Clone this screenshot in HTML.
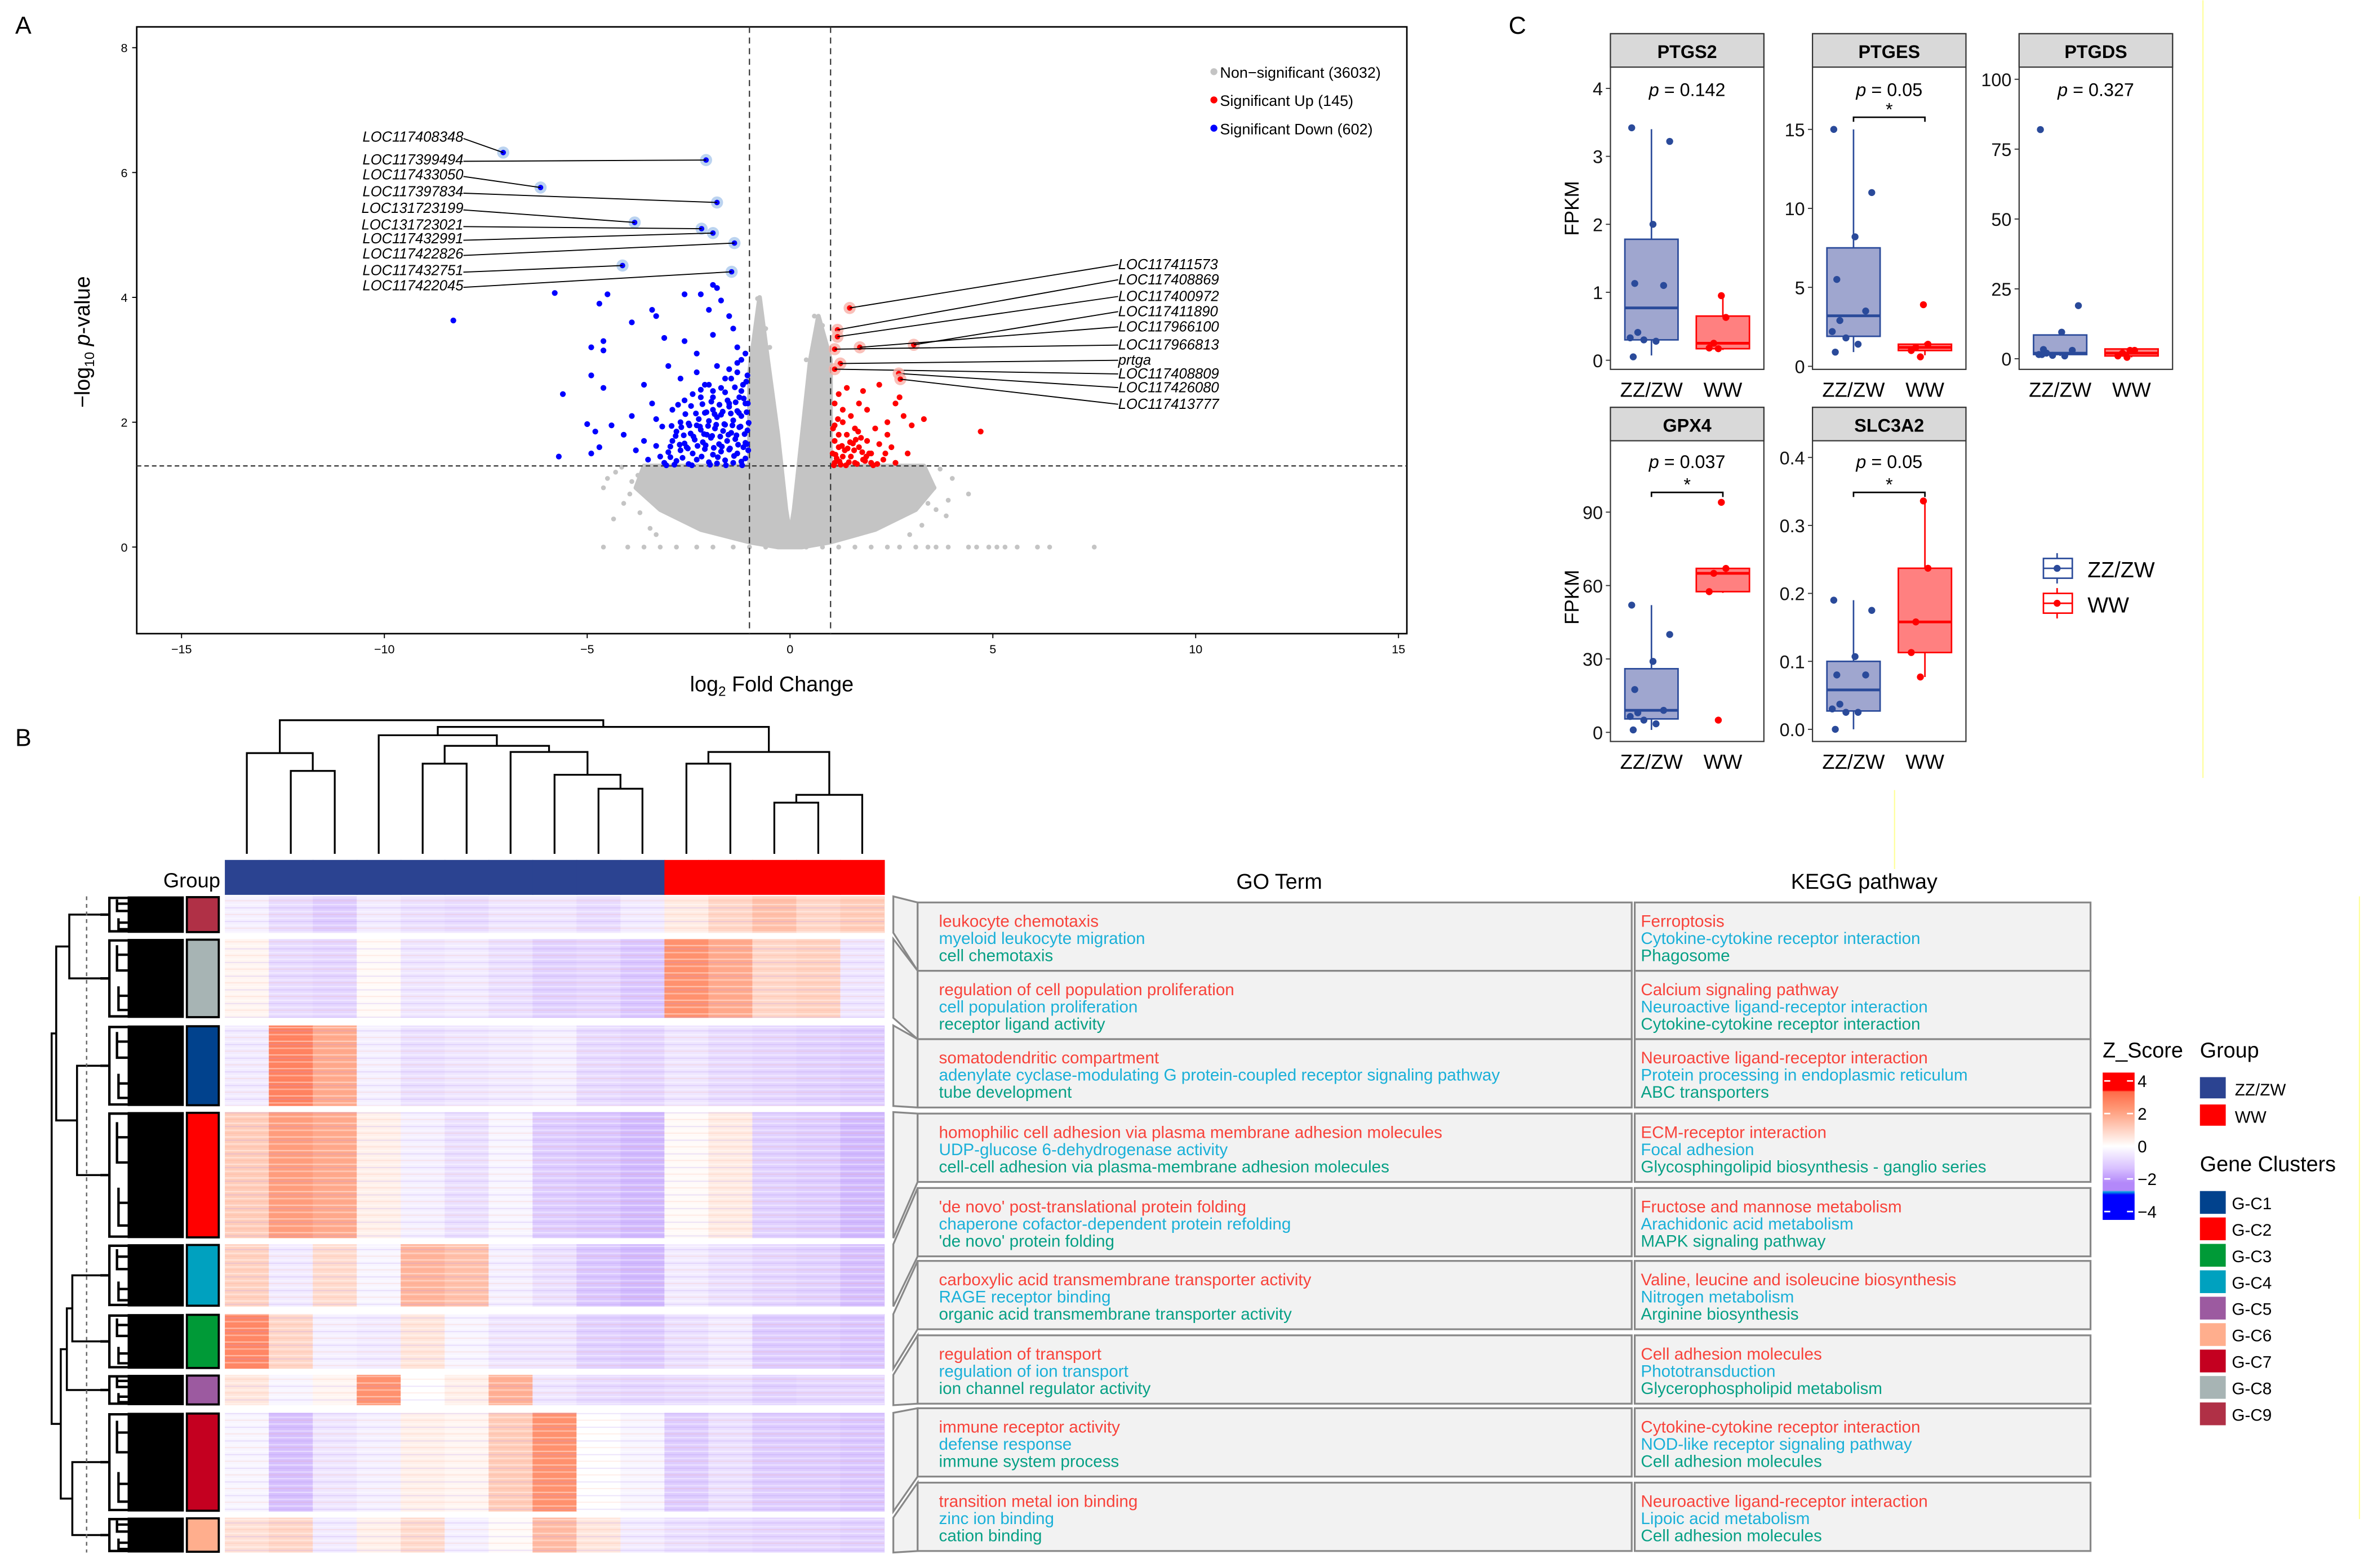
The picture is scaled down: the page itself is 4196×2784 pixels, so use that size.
<!DOCTYPE html>
<html><head><meta charset="utf-8"><style>
html,body{margin:0;padding:0;background:#fff;}
svg{display:block;font-family:"Liberation Sans",Arial,sans-serif;}
</style></head><body>
<svg id="fig" xmlns="http://www.w3.org/2000/svg" width="4196" height="2784" viewBox="0 0 1556 1032">
<defs>
<pattern id="stripes" x="0" y="0" width="29" height="9" patternUnits="userSpaceOnUse">
<rect x="0" y="1" width="29" height="0.8" fill="#fff" opacity="0.45"/>
<rect x="0" y="3.2" width="29" height="0.7" fill="#b090f0" opacity="0.25"/>
<rect x="0" y="5.5" width="29" height="1" fill="#fff" opacity="0.35"/>
<rect x="0" y="7.6" width="29" height="0.6" fill="#ff9070" opacity="0.18"/>
</pattern>
</defs>
<rect x="0" y="0" width="1556" height="1032" fill="#fff"/>
<line x1="1450" y1="0" x2="1450" y2="512" stroke="#ffff99" stroke-width="0.8"/>
<line x1="1247" y1="520" x2="1247" y2="572" stroke="#ffff99" stroke-width="0.8"/>
<line x1="1553" y1="590" x2="1553" y2="1000" stroke="#ffff99" stroke-width="0.8"/>
<text x="10" y="22" font-size="16">A</text>
<text x="10" y="491" font-size="16">B</text>
<text x="993" y="22" font-size="16">C</text>
<g id="volcano"></g>
<g id="boxes"></g>
<g id="heat"></g>
<g id="table"></g>
<g id="legend"></g>
</svg>
<script>
// ===== Volcano data =====
const xTicks=[-15,-10,-5,0,5,10,15];
const yTicks=[0,2,4,6,8];
const downX=[-8.3,-5.8,-4.5,-4.7,-3.9,-3.4,-3.3,-2.6,-2.2,-1.9,-1.8,-1.7,-2.0,-1.5,-4.6,-4.9,-4.6,-3.1,-2.6,-2.3,-1.9,-1.4,-1.3,-5.6,-4.9,-4.6,-3.6,-3.4,-3.0,-2.7,-2.3,-2.1,-1.8,-1.6,-1.3,-1.2,-5.0,-4.8,-4.4,-4.1,-4.7,-5.7,-4.9,-3.8,-3.6,-3.9,-3.3,-3.5,-2.9,-2.6,-2.2,-1.9,-1.5,-1.2,
-3.1,-2.8,-2.5,-2.3,-2.0,-1.8,-1.6,-1.4,-1.2,-1.1,-3.0,-2.7,-2.4,-2.1,-1.9,-1.7,-1.5,-1.3,-1.15,-2.9,-2.6,-2.35,-2.15,-1.95,-1.75,-1.55,-1.35,-1.1,-3.2,-2.8,-2.45,-2.2,-2.05,-1.85,-1.65,-1.45,-1.25,-1.05,-2.7,-2.5,-2.25,-2.0,-1.8,-1.6,-1.4,-1.2,-3.3,-2.95,-2.55,-2.3,-2.1,-1.9,-1.7,-1.5,-1.3,-1.1,-2.4,-2.0,-1.7,-1.45,-1.25,-1.08,
-3.05,-2.85,-2.65,-2.42,-2.18,-1.97,-1.78,-1.58,-1.38,-1.18,-1.03,-2.95,-2.72,-2.52,-2.28,-2.08,-1.88,-1.68,-1.48,-1.28,-1.06,-2.82,-2.62,-2.38,-2.12,-1.92,-1.72,-1.52,-1.32,-1.12,-3.15,-2.92,-2.68,-2.48,-2.22,-2.02,-1.82,-1.62,-1.42,-1.22,-1.02,-2.58,-2.32,-2.06,-1.86,-1.66,-1.46,-1.26,-1.07,-2.76,-2.44,-2.16,-1.94,-1.74,-1.54,-1.34,-1.14,-1.04,-2.2,-1.9,-1.6,-1.36,-1.16,-1.05,-1.5,-1.3,-1.1];
const downY=[3.63,4.07,4.05,3.9,3.6,3.8,3.7,4.05,4.05,4.2,4.15,3.95,3.8,3.7,3.3,3.2,3.15,3.35,3.3,3.1,3.4,3.5,3.2,2.45,2.75,2.55,2.6,2.3,2.9,2.7,2.8,2.6,2.9,2.7,2.8,3.0,1.97,1.85,1.95,1.8,1.6,1.45,1.5,1.55,1.7,2.1,2.05,1.4,2.2,2.35,2.4,2.4,2.3,2.5,
1.35,1.38,1.33,1.4,1.36,1.34,1.39,1.35,1.37,1.42,1.52,1.55,1.5,1.57,1.48,1.53,1.56,1.5,1.6,1.7,1.66,1.72,1.68,1.75,1.65,1.7,1.73,1.67,1.45,1.85,1.82,1.88,1.8,1.9,1.86,1.83,1.92,1.87,2.0,1.98,2.05,2.02,2.08,1.96,2.03,2.1,1.62,1.44,1.6,1.95,2.15,2.2,2.12,2.25,2.18,2.3,2.45,2.6,2.55,2.7,2.4,2.65,
1.31,1.32,1.43,1.31,1.45,1.32,1.44,1.31,1.46,1.31,1.55,1.61,1.64,1.58,1.62,1.63,1.59,1.61,1.58,1.64,1.65,1.78,1.79,1.77,1.81,1.78,1.77,1.8,1.79,1.81,1.93,1.94,1.92,1.95,1.93,1.94,1.96,1.97,1.95,1.93,1.99,2.13,2.14,2.16,2.13,2.17,2.14,2.15,2.16,2.28,2.26,2.29,2.33,2.28,2.35,2.32,2.38,2.3,2.52,2.5,2.48,2.56,2.6,2.75,2.85,2.95,3.1];
const upX=[4.7,3.3,3.0,2.8,2.7,2.6,2.2,1.8,1.4,1.2,1.1,2.4,2.1,1.6,1.3,1.1,2.5,2.9,2.6,2.3,2.0,1.7,1.5,1.2,1.1,1.4,1.9,1.6,1.3,1.05,1.8,2.2,1.5,1.9,1.2,1.1,2.0,2.4,1.7,1.3,1.25,1.45,1.65,1.85,2.05,1.15,1.35,1.55,1.75,1.95,1.08,1.22,1.38,1.58,1.78,2.15,2.35,1.12,1.28,1.48,1.68,1.88,1.06,1.18,1.42,1.62];
const upY=[1.85,2.05,1.95,2.1,2.4,2.3,2.6,2.5,2.55,2.45,2.3,1.8,1.9,1.9,2.0,1.95,1.6,1.5,1.35,1.4,1.5,1.6,1.45,1.6,1.35,1.8,1.7,1.35,1.45,1.5,1.4,1.65,2.1,2.2,1.8,1.7,1.35,2.0,2.3,2.2,1.32,1.36,1.33,1.38,1.31,1.42,1.55,1.66,1.75,1.5,1.31,1.37,1.31,1.55,1.52,1.33,1.5,1.48,1.62,1.68,1.85,1.45,1.9,2.05,1.58,1.72];
const nsX=[-4.6,-4.0,-3.6,-3.2,-2.8,-2.3,-1.9,-1.4,-1.0,-0.6,0.4,0.8,1.2,1.6,2.0,2.4,2.7,3.1,3.4,3.6,3.9,4.4,4.6,4.9,5.1,5.3,5.6,6.1,6.4,7.5,-4.6,-4.3,-3.9,3.7,4.0,4.4,3.0,-0.8,-0.6,0.6,0.8,-0.5,0.4,-4.1,-3.7,3.6,3.9,-4.35,-3.95,-3.75,-3.45,3.55,3.85,3.25,2.95,-4.15,-4.5,3.4,-3.3];
const nsY=[0,0,0,0,0,0,0,0,0,0,0,0,0,0,0,0,0,0,0,0,0,0,0,0,0,0,0,0,0,0,0.95,1.2,1.05,1.25,1.1,0.85,1.2,3.98,3.5,3.7,3.55,3.2,3.0,0.7,0.55,0.6,0.75,0.45,0.85,1.15,0.3,0.95,0.5,0.35,0.2,1.28,1.1,0.7,0.2];
const nsCloud=[[-3.6,1.3],[-1,1.3],[-1,2.8],[-0.75,4.0],[-0.55,3.0],[-0.3,1.8],[-0.1,0.6],[0,0.2],[0.1,0.6],[0.3,1.8],[0.5,3.0],[0.7,3.7],[1,3.0],[1,1.3],[3.3,1.3],[3.55,0.95],[3.1,0.6],[2.1,0.28],[1.0,0.08],[0.3,0],[-0.3,0],[-1,0.08],[-2.2,0.28],[-3.2,0.6],[-3.8,0.95]];
const labDown=["LOC117408348","LOC117399494","LOC117433050","LOC117397834","LOC131723199","LOC131723021","LOC117432991","LOC117422826","LOC117432751","LOC117422045"];
const labDownX=[-7.07,-2.07,-6.15,-1.8,-3.83,-2.18,-1.9,-1.37,-4.13,-1.44];
const labDownY=[6.32,6.2,5.76,5.52,5.2,5.1,5.03,4.87,4.51,4.41];
const labUp=["LOC117411573","LOC117408869","LOC117400972","LOC117411890","LOC117966100","LOC117966813","prtga","LOC117408809","LOC117426080","LOC117413777"];
const labUpX=[1.47,1.17,1.17,3.05,1.72,1.1,1.24,1.1,2.68,2.72];
const labUpY=[3.83,3.48,3.37,3.24,3.2,3.17,2.94,2.85,2.78,2.69];

const NS="http://www.w3.org/2000/svg";
function mk(tag,attrs,parent,txt){const e=document.createElementNS(NS,tag);for(const k in attrs)e.setAttribute(k,attrs[k]);if(txt!==undefined)e.textContent=txt;parent.appendChild(e);return e;}

(function(){
const g=document.getElementById('volcano');
const vx=x=>520+x*26.7, vy=y=>360-y*41.1;
const L=90,R=926,T=17.5,B=417;
let r=mk('rect',{x:L,y:T,width:R-L,height:B-T,fill:'none',stroke:'#000','stroke-width':1},g);


xTicks.forEach(t=>{mk('line',{x1:vx(t),x2:vx(t),y1:B,y2:B+3,stroke:'#000','stroke-width':0.7},g);
 const e=mk('text',{x:vx(t),y:B+13,'font-size':8,'text-anchor':'middle'},g,t<0?'\u2212'+(-t):t);
 });
yTicks.forEach(t=>{mk('line',{x1:L-3,x2:L,y1:vy(t),y2:vy(t),stroke:'#000','stroke-width':0.7},g);
 const e=mk('text',{x:L-6,y:vy(t)+3,'font-size':8,'text-anchor':'end'},g,t);
 });
let xt=mk('text',{x:508,y:455,'font-size':14,'text-anchor':'middle'},g);

xt.innerHTML='log<tspan font-size="9" dy="3">2</tspan><tspan dy="-3"> Fold Change</tspan>';
let yt=mk('text',{transform:'translate(59,225) rotate(-90)','font-size':14,'text-anchor':'middle'},g);

yt.innerHTML='\u2212log<tspan font-size="9" dy="3">10</tspan><tspan dy="-3"> </tspan><tspan font-style="italic">p</tspan>-value';
let cl=mk('path',{d:'M'+nsCloud.map(p=>vx(p[0])+','+vy(p[1])).join('L')+'Z',fill:'#c4c4c4',stroke:'#c4c4c4','stroke-width':3,'stroke-linejoin':'round'},g);

nsX.forEach((x,i)=>{const c=mk('circle',{cx:vx(x),cy:vy(nsY[i]),r:1.6,fill:'#c4c4c4'},g);
 });
[-1,1].forEach(v=>{const l=mk('line',{x1:vx(v),x2:vx(v),y1:T,y2:B,stroke:'#333','stroke-width':0.8,'stroke-dasharray':'4,3'},g);
 });
let hl=mk('line',{x1:L,x2:R,y1:vy(1.3),y2:vy(1.3),stroke:'#333','stroke-width':0.8,'stroke-dasharray':'3,2'},g);

downX.forEach((x,i)=>{const c=mk('circle',{cx:vx(x),cy:vy(downY[i]),r:1.9,fill:'#0000ff'},g);
 });
upX.forEach((x,i)=>{const c=mk('circle',{cx:vx(x),cy:vy(upY[i]),r:1.9,fill:'#ff0000'},g);
 });
const dLabY=[90,105,115,126,137,148,157,167,178,188];
labDown.forEach((s,i)=>{const px=vx(labDownX[i]),py=vy(labDownY[i]);
 mk('circle',{cx:px,cy:py,r:4,fill:'#aac8ec',opacity:0.8},g);
 mk('circle',{cx:px,cy:py,r:1.8,fill:'#0000ff'},g);
 mk('line',{x1:305,y1:dLabY[i]+1,x2:px,y2:py,stroke:'#000','stroke-width':0.7},g);
 const t=mk('text',{x:305,y:dLabY[i]+3,'font-size':9.5,'font-style':'italic','text-anchor':'end'},g,s);
 });
const uLabY=[174,184,195,205,215,227,237,246,255,266];
labUp.forEach((s,i)=>{const px=vx(labUpX[i]),py=vy(labUpY[i]);
 mk('circle',{cx:px,cy:py,r:4,fill:'#f7b0a8',opacity:0.8},g);
 mk('circle',{cx:px,cy:py,r:1.8,fill:'#ff0000'},g);
 mk('line',{x1:736,y1:uLabY[i],x2:px,y2:py,stroke:'#000','stroke-width':0.7},g);
 const t=mk('text',{x:736,y:uLabY[i]+3,'font-size':9.5,'font-style':'italic'},g,s);
 });
const lg=[['Non\u2212significant (36032)','#c4c4c4'],['Significant Up (145)','#ff0000'],['Significant Down (602)','#0000ff']];
lg.forEach((d,i)=>{mk('circle',{cx:799,cy:47+i*18.6,r:2.3,fill:d[1]},g);
 const t=mk('text',{x:803,y:51+i*18.6,'font-size':10},g,d[0]);
 });
})();

// ===== Boxplot data =====
const geneNames=["PTGS2","PTGES","PTGDS","GPX4","SLC3A2"];
const pLabels=["0.142","0.05","0.327","0.037","0.05"];
const sigStars=[false,true,false,true,true];
const tickSets=[[0,1,2,3,4],[0,5,10,15],[0,25,50,75,100],[0,30,60,90],[0.0,0.1,0.2,0.3,0.4]];
const tickText=[["0","1","2","3","4"],["0","5","10","15"],["0","25","50","75","100"],["0","30","60","90"],["0.0","0.1","0.2","0.3","0.4"]];
const zzStats=[[0.07,0.3,0.77,1.78,3.4],[0.9,1.9,3.2,7.5,15],[1,1.5,2,8.5,9],[1,5.5,9,26,52],[0,0.027,0.058,0.1,0.19]];
const wwStats=[[0.15,0.17,0.25,0.65,0.95],[0.7,1.0,1.2,1.4,1.5],[0.5,1,2,3.5,3.5],[57,57.5,65,67,67],[0.077,0.113,0.158,0.237,0.336]];
const zzPts=[[3.42,3.22,2.0,1.13,1.1,0.41,0.33,0.3,0.28,0.05],[15,11,8.2,5.5,3.5,2.9,2.2,1.8,1.4,0.9],[82,19,9.5,3.3,3,2,1.5,1.2,1,1.5],[52,40,29,17.5,9,8,6.5,5,3.5,1],[0.19,0.175,0.107,0.08,0.08,0.037,0.03,0.025,0.025,0.0]];
const wwPts=[[0.95,0.63,0.25,0.18,0.17],[3.9,1.4,1.2,1.0,0.6],[3,3,2,1,0.5],[94,67,65,57.5,5],[0.336,0.237,0.158,0.113,0.077]];
(function(){
const g=document.getElementById('boxes');
const lefts=[1060,1193,1329,1060,1193];
const stripT=[22,22,22,268,268];
const plotB=[243,243,243,488,488];
const y0px=[237,241,236,482,480];
const ytopPx=[58,85,52,337,301];
const zzJit=[-13,12,1,-11,8,-9,-14,-5,3,-12];
const wwJit=[-1,2,-6,-9,-3];
geneNames.forEach((nm,k)=>{
 const L=lefts[k],W=101,T=stripT[k],B=plotB[k];
 const tmax=tickSets[k][tickSets[k].length-1];
 const sy=v=>y0px[k]-v*(y0px[k]-ytopPx[k])/tmax;
 const pg=mk('g',{},g);
 mk('rect',{x:L,y:T,width:W,height:B-T,fill:'#fff',stroke:'#333','stroke-width':0.8},pg);
 mk('rect',{x:L,y:T,width:W,height:22,fill:'#d9d9d9',stroke:'#333','stroke-width':0.8},pg);
 const st=mk('text',{x:L+W/2,y:T+16,'font-size':12,'font-weight':'bold','text-anchor':'middle'},pg,nm);
 
 tickSets[k].forEach((t,i)=>{mk('line',{x1:L-3,x2:L,y1:sy(t),y2:sy(t),stroke:'#333','stroke-width':0.7},pg);
  const e=mk('text',{x:L-5,y:sy(t)+4.5,'font-size':12,'text-anchor':'end',fill:'#111'},pg,tickText[k][i]);
  });
 const cx=[L+27,L+74];
 ['ZZ/ZW','WW'].forEach((c,i)=>{const e=mk('text',{x:cx[i],y:B+18,'font-size':13.5,'text-anchor':'middle'},pg,c);
  });
 const pt=mk('text',{x:L+W/2,y:(k<3?63:308),'font-size':12,'text-anchor':'middle'},pg);
 
 pt.innerHTML='<tspan font-style="italic">p</tspan> = '+pLabels[k];
 if(sigStars[k]){const by=(k<3?77:324);
  mk('path',{d:`M${cx[0]},${by+3}V${by}H${cx[1]}V${by+3}`,fill:'none',stroke:'#000','stroke-width':1},pg);
  mk('text',{x:(cx[0]+cx[1])/2,y:by-1,'font-size':12,'text-anchor':'middle'},pg,'*');}
 [[zzStats[k],'#2a4a9a','#9fa6cf',zzPts[k],zzJit],[wwStats[k],'#ff0000','#ff8080',wwPts[k],wwJit]].forEach((d,i)=>{
  const s=d[0],x=cx[i],hw=17.5;
  const bg=mk('g',{},pg);
  mk('line',{x1:x,x2:x,y1:sy(s[0]),y2:sy(s[4]),stroke:d[1],'stroke-width':1},bg);
  mk('rect',{x:x-hw,y:sy(s[3]),width:2*hw,height:Math.max(1,sy(s[1])-sy(s[3])),fill:d[2],stroke:d[1],'stroke-width':1},bg);
  mk('line',{x1:x-hw,x2:x+hw,y1:sy(s[2]),y2:sy(s[2]),stroke:d[1],'stroke-width':1.8},bg);
  d[3].forEach((v,j)=>{const c=mk('circle',{cx:x+d[4][j],cy:sy(v),r:2.3,fill:i?'#ff0000':'#2a4a9a'},bg);
   });
 });
});
const f1=mk('text',{transform:'translate(1039,137) rotate(-90)','font-size':13,'text-anchor':'middle'},g,'FPKM');

const f2=mk('text',{transform:'translate(1039,393) rotate(-90)','font-size':13,'text-anchor':'middle'},g,'FPKM');

[['ZZ/ZW','#2a4a9a',374],['WW','#ff0000',397]].forEach(d=>{
 mk('line',{x1:1354,x2:1354,y1:d[2]-10,y2:d[2]+10,stroke:d[1],'stroke-width':1},g);
 mk('rect',{x:1345,y:d[2]-6.5,width:19,height:13,fill:'#fff',stroke:d[1],'stroke-width':1},g);
 mk('line',{x1:1345,x2:1364,y1:d[2],y2:d[2],stroke:d[1],'stroke-width':1},g);
 mk('circle',{cx:1354,cy:d[2],r:2.3,fill:d[1]},g);
 const t=mk('text',{x:1374,y:d[2]+6,'font-size':14.5},g,d[0]);
 });
})();

// ===== Heatmap data =====
const clusterNames=["G-C9","G-C8","G-C1","G-C2","G-C4","G-C3","G-C5","G-C7","G-C6"];
const clusterColors=["#b03046","#a7b4b4","#01428d","#ff0000","#00a1bf","#009a37","#9c5aa0","#c40020","#ffae8d"];
const clusterTop=[590,618,675,732,819,865,905,930,999];
const clusterBot=[614,670,728,815,860,901,925,995,1022];
const zMeans=[
[-0.3,-0.7,-1.0,-0.4,-0.6,-0.7,-0.5,-0.5,-0.7,-0.4,0.4,0.8,1.2,0.8,1.0],
[0.2,-0.7,-0.8,0.1,-0.5,-0.4,-0.6,-0.9,-0.8,-1.1,2.0,1.6,0.8,0.9,-0.5],
[-0.4,2.3,1.6,-0.3,-0.6,-0.5,-0.4,-0.3,-0.7,-0.8,-0.5,-0.7,-0.8,-0.9,-1.0],
[1.0,1.8,1.6,0.3,-0.3,-0.6,-0.2,-1.0,-1.1,-1.3,0.1,0.4,-0.9,-1.0,-1.3],
[0.9,-0.4,0.7,-0.2,1.4,1.2,-0.3,-0.6,-1.1,-1.3,-0.4,-0.6,-0.8,-0.9,-1.2],
[2.2,0.8,-0.3,-0.4,0.5,-0.2,-0.5,-0.5,-0.9,-1.0,-0.6,-0.4,-1.0,-1.0,-1.1],
[0.5,-0.2,0.2,2.0,0.0,0.3,1.5,-0.5,-0.7,-0.8,-0.7,-0.6,-0.9,-0.8,-0.8],
[-0.2,-1.2,-0.5,-0.3,0.3,0.2,1.0,2.0,0.0,-0.2,-1.0,-0.6,-1.0,-1.0,-1.1],
[0.6,0.8,-0.4,0.3,0.7,-0.3,0.1,1.3,0.5,-0.4,-0.6,-0.7,-0.8,-0.8,-0.9]];
const sampleGroups=["ZZ/ZW","ZZ/ZW","ZZ/ZW","ZZ/ZW","ZZ/ZW","ZZ/ZW","ZZ/ZW","ZZ/ZW","ZZ/ZW","ZZ/ZW","WW","WW","WW","WW","WW"];
const colMerges=[[1,2,149],[0,15,181],[4,5,162],[8,9,117],[7,18,142],[6,19,183],[17,20,194],[3,21,213],[10,11,162],[12,13,92],[24,14,106],[23,25,183],[22,26,228],[16,27,240]];
(function(){
const g=document.getElementById('heat');
const HL=148,HR=582,nC=15,cw=(HR-HL)/nC;
function zc(z){const st=[[-4,[0,0,255]],[-2,[180,140,250]],[-1,[222,204,255]],[0,[255,255,255]],[1,[255,204,185]],[2,[255,145,110]],[3,[255,92,60]],[4,[255,0,0]]];
 z=Math.max(-4,Math.min(4,z));for(let i=0;i<st.length-1;i++){if(z<=st[i+1][0]){const t=(z-st[i][0])/(st[i+1][0]-st[i][0]);const a=st[i][1],b=st[i+1][1];return `rgb(${a.map((v,j)=>Math.round(v+(b[j]-v)*t)).join(',')})`;}}return 'red';}
zMeans.forEach((row,ci)=>{row.forEach((z,j)=>{const r=mk('rect',{x:HL+j*cw,y:clusterTop[ci],width:cw+0.3,height:clusterBot[ci]-clusterTop[ci],fill:zc(z)},g);
 });
 const ov=mk('rect',{x:HL,y:clusterTop[ci],width:HR-HL,height:clusterBot[ci]-clusterTop[ci],fill:'url(#stripes)'},g);
 
 const sw=mk('rect',{x:123,y:clusterTop[ci]+0.5,width:21,height:clusterBot[ci]-clusterTop[ci]-1,fill:clusterColors[ci],stroke:'#000','stroke-width':1.4},g);
 
 const bl=mk('rect',{x:84,y:clusterTop[ci],width:37,height:clusterBot[ci]-clusterTop[ci],fill:'#000'},g);
 
 const mid=(clusterTop[ci]+clusterBot[ci])/2,h=clusterBot[ci]-clusterTop[ci];
 mk('path',{d:`M84,${clusterTop[ci]+1}H72V${clusterBot[ci]-1}H84M72,${mid}H66M77,${clusterTop[ci]+h*0.2}H84M77,${clusterTop[ci]+h*0.08}V${clusterTop[ci]+h*0.4}H84M78,${clusterTop[ci]+h*0.6}V${clusterTop[ci]+h*0.9}H84M78,${clusterTop[ci]+h*0.72}H84`,fill:'none',stroke:'#000','stroke-width':1.6},g);
});
const cm=clusterTop.map((t,i)=>(t+clusterBot[i])/2);
const rowTree=[[cm[0],cm[1],45.6],[cm[2],cm[3],50.7],[cm[4],cm[5],47.6],[cm[7],cm[8],47.6]];
let p='';rowTree.forEach(d=>{p+=`M66,${d[0]}H${d[2]}V${d[1]}H66`;});
const a=(cm[0]+cm[1])/2,b=(cm[2]+cm[3])/2,c=(cm[4]+cm[5])/2,d2=(cm[7]+cm[8])/2;
p+=`M45.6,${a}H37V${b}H50.7`;
const e=(c+cm[6])/2;p+=`M47.6,${c}H44V${cm[6]}H66`;
p+=`M44,${e}H40V${d2}H47.6`;
const top=(a+b)/2,bot=(e+d2)/2;p+=`M37,${top}H34V${bot}H40`;
const rt=mk('path',{d:p,fill:'none',stroke:'#000','stroke-width':1.3},g);

const dl=mk('line',{x1:57,x2:57,y1:590,y2:1022,stroke:'#666','stroke-width':0.9,'stroke-dasharray':'2.5,2.5'},g);

sampleGroups.forEach((s,j)=>{const r=mk('rect',{x:HL+j*cw,y:566,width:cw+0.4,height:23,fill:s==='WW'?'#ff0000':'#2b4391'},g);
 });
const gt=mk('text',{x:145,y:584,'font-size':13.5,'text-anchor':'end'},g,'Group');

const base=562,sc=88/240;
const nx=[],ny=[];for(let j=0;j<nC;j++){nx.push(HL+(j+0.5)*cw);ny.push(base);}
let dp='';colMerges.forEach(m=>{const yy=base-m[2]*sc;dp+=`M${nx[m[0]]},${ny[m[0]]}V${yy}H${nx[m[1]]}V${ny[m[1]]}`;nx.push((nx[m[0]]+nx[m[1]])/2);ny.push(yy);});
const cd=mk('path',{d:dp,fill:'none',stroke:'#000','stroke-width':1.2},g);

})();

// ===== Enrichment table =====
const goTerms=[["leukocyte chemotaxis","myeloid leukocyte migration","cell chemotaxis"],
["regulation of cell population proliferation","cell population proliferation","receptor ligand activity"],
["somatodendritic compartment","adenylate cyclase-modulating G protein-coupled receptor signaling pathway","tube development"],
["homophilic cell adhesion via plasma membrane adhesion molecules","UDP-glucose 6-dehydrogenase activity","cell-cell adhesion via plasma-membrane adhesion molecules"],
["'de novo' post-translational protein folding","chaperone cofactor-dependent protein refolding","'de novo' protein folding"],
["carboxylic acid transmembrane transporter activity","RAGE receptor binding","organic acid transmembrane transporter activity"],
["regulation of transport","regulation of ion transport","ion channel regulator activity"],
["immune receptor activity","defense response","immune system process"],
["transition metal ion binding","zinc ion binding","cation binding"]];
const keggTerms=[["Ferroptosis","Cytokine-cytokine receptor interaction","Phagosome"],
["Calcium signaling pathway","Neuroactive ligand-receptor interaction","Cytokine-cytokine receptor interaction"],
["Neuroactive ligand-receptor interaction","Protein processing in endoplasmic reticulum","ABC transporters"],
["ECM-receptor interaction","Focal adhesion","Glycosphingolipid biosynthesis - ganglio series"],
["Fructose and mannose metabolism","Arachidonic acid metabolism","MAPK signaling pathway"],
["Valine, leucine and isoleucine biosynthesis","Nitrogen metabolism","Arginine biosynthesis"],
["Cell adhesion molecules","Phototransduction","Glycerophospholipid metabolism"],
["Cytokine-cytokine receptor interaction","NOD-like receptor signaling pathway","Cell adhesion molecules"],
["Neuroactive ligand-receptor interaction","Lipoic acid metabolism","Cell adhesion molecules"]];
(function(){
const g=document.getElementById('table');
const tops=[594,639,684,733,782,830,879,927,976],h=45;
const cols=['#f8433b','#1ab0d8','#07a085'];
const h1=mk('text',{x:842,y:585,'font-size':14,'text-anchor':'middle'},g,'GO Term');

const h2=mk('text',{x:1227,y:585,'font-size':14,'text-anchor':'middle'},g,'KEGG pathway');

tops.forEach((t,i)=>{
 const ct=clusterTop[i],cb=clusterBot[i];
 const cn=mk('polygon',{points:`588,${ct} 604,${t} 604,${t+h} 588,${cb}`,fill:'#f2f2f2',stroke:'#888','stroke-width':1.2},g);
 
 const b1=mk('rect',{x:604,y:t,width:470,height:h,fill:'#f2f2f2',stroke:'#888','stroke-width':1.2},g);
 
 const b2=mk('rect',{x:1076,y:t,width:300,height:h,fill:'#f2f2f2',stroke:'#888','stroke-width':1.2},g);
 
 for(let k=0;k<3;k++){
  const a=mk('text',{x:618,y:t+16+k*11.3,'font-size':11,fill:cols[k]},g,goTerms[i][k]);
  
  const b=mk('text',{x:1080,y:t+16+k*11.3,'font-size':11,fill:cols[k]},g,keggTerms[i][k]);
  }
});
})();

// ===== Legend =====
const zTicks=[4,2,0,-2,-4];
const legendOrder=["G-C1","G-C2","G-C3","G-C4","G-C5","G-C6","G-C7","G-C8","G-C9"];
const legendColors=["#01428d","#ff0000","#009a37","#00a1bf","#9c5aa0","#ffae8d","#c40020","#a7b4b4","#b03046"];
(function(){
const g=document.getElementById('legend');
const defs=mk('defs',{},g);
const lgd=mk('linearGradient',{id:'zg',x1:0,y1:0,x2:0,y2:1},defs);
[['0','#ff0000'],['0.12','#ff0000'],['0.13','#ff6a48'],['0.25','#ff9a78'],['0.5','#ffffff'],['0.65','#d8c0ff'],['0.75','#b388fa'],['0.8','#b388fa'],['0.81','#00a0e0'],['0.83','#0000ff'],['1','#0000ff']].forEach(s=>mk('stop',{offset:s[0],'stop-color':s[1]},lgd));
const t1=mk('text',{x:1384,y:696,'font-size':14},g,'Z_Score');

const t2=mk('text',{x:1448,y:696,'font-size':14},g,'Group');

const cb=mk('rect',{x:1384,y:706,width:21,height:97,fill:'url(#zg)'},g);

const zy=z=>754.5-z*10.75;
zTicks.forEach(z=>{mk('line',{x1:1385,x2:1389,y1:zy(z),y2:zy(z),stroke:'#fff','stroke-width':1},g);
 mk('line',{x1:1400,x2:1404,y1:zy(z),y2:zy(z),stroke:'#fff','stroke-width':1},g);
 const t=mk('text',{x:1407,y:zy(z)+4,'font-size':11},g,z<0?'\u2212'+(-z):z);
 });
[['ZZ/ZW','#2b4391',709],['WW','#ff0000',727]].forEach(d=>{mk('rect',{x:1448,y:d[2],width:17,height:14,fill:d[1]},g);
 const t=mk('text',{x:1471,y:d[2]+12,'font-size':11},g,d[0]);
 });
const gc=mk('text',{x:1448,y:771,'font-size':14},g,'Gene Clusters');

legendOrder.forEach((n,i)=>{const y=784+i*17.4;mk('rect',{x:1448,y:y,width:17,height:15,fill:legendColors[i]},g);
 const t=mk('text',{x:1469,y:y+12,'font-size':11},g,n);
 });
})();
</script>
</body></html>
